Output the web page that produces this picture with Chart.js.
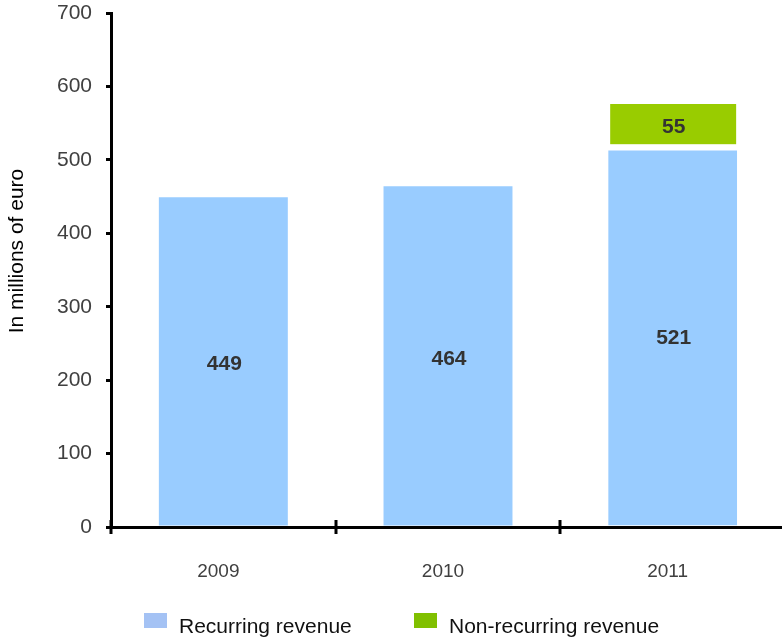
<!DOCTYPE html>
<html>
<head>
<meta charset="utf-8">
<script src="https://cdn.jsdelivr.net/npm/chart.js@4/dist/chart.umd.min.js"></script>
<style>
  html, body { margin: 0; padding: 0; background: #fff; overflow: hidden; }
  canvas { display: block; }
</style>
</head>
<body>
<canvas id="c" width="790" height="641"></canvas>
<script>
// Revenue split per year, in millions of euro
const years = ['2009', '2010', '2011'];
const recurring = [449, 464, 521];
const nonRecurring = [0, 0, 55];
const yTicks = [0, 100, 200, 300, 400, 500, 600, 700];
const seriesNames = ['Recurring revenue', 'Non-recurring revenue'];
const axisTitle = 'In millions of euro';

const FONT = '"Liberation Sans", Arial, Helvetica, sans-serif';
const legendColors = ['#a4c2f4', '#80c000'];

// Value labels centred in each visible segment
const valueLabels = {
  id: 'valueLabels',
  afterDatasetsDraw(chart) {
    const ctx = chart.ctx;
    ctx.save();
    ctx.font = 'bold 21px ' + FONT;
    ctx.fillStyle = '#333333';
    ctx.textAlign = 'center';
    ctx.textBaseline = 'middle';
    chart.data.datasets.forEach((ds, di) => {
      chart.getDatasetMeta(di).data.forEach((bar, i) => {
        const v = ds.data[i];
        if (!v) return;
        const p = bar.getCenterPoint();
        ctx.fillText(String(v), p.x + 1, p.y + 3);
      });
    });
    ctx.restore();
  }
};

// Category separator marks crossing the x axis, rotated axis title and legend
const decorations = {
  id: 'decorations',
  afterDraw(chart) {
    const ctx = chart.ctx;
    const area = chart.chartArea;
    const x = chart.scales.x;
    ctx.save();
    ctx.strokeStyle = '#000';
    ctx.lineWidth = 3;
    const step = x.getPixelForValue(1) - x.getPixelForValue(0);
    for (let i = 0; i < years.length; i++) {
      const px = Math.round(x.getPixelForValue(i) - step / 2);
      ctx.beginPath();
      ctx.moveTo(px, area.bottom - 7);
      ctx.lineTo(px, area.bottom + 7);
      ctx.stroke();
    }

    // y axis title
    ctx.translate(17, 251);
    ctx.rotate(-Math.PI / 2);
    ctx.font = '21px ' + FONT;
    ctx.fillStyle = '#000';
    ctx.textAlign = 'center';
    ctx.textBaseline = 'middle';
    ctx.fillText(axisTitle, 0, 0);
    ctx.restore();

    // legend
    ctx.save();
    const items = [{ bx: 144, tx: 179 }, { bx: 414, tx: 449 }];
    ctx.font = '21px ' + FONT;
    ctx.textAlign = 'left';
    ctx.textBaseline = 'alphabetic';
    chart.data.datasets.forEach((ds, i) => {
      ctx.fillStyle = legendColors[i];
      ctx.fillRect(items[i].bx, 613, 23, 15);
      ctx.fillStyle = '#111';
      ctx.fillText(ds.label, items[i].tx, 633);
    });
    ctx.restore();
  }
};

new Chart(document.getElementById('c'), {
  type: 'bar',
  data: {
    labels: years,
    datasets: [
      {
        label: seriesNames[0],
        data: recurring,
        backgroundColor: '#99ccff',
        borderColor: '#ffffff',
        borderWidth: (c) => (nonRecurring[c.dataIndex] > 0 ? { top: 6, left: 0, right: 0, bottom: 0 } : 0),
        categoryPercentage: 1,
        barPercentage: 0.574
      },
      {
        label: seriesNames[1],
        data: nonRecurring,
        backgroundColor: '#99cc00',
        borderColor: '#ffffff',
        borderWidth: { top: 0, left: 2, right: 1, bottom: 0 },
        categoryPercentage: 1,
        barPercentage: 0.574
      }
    ]
  },
  options: {
    responsive: false,
    animation: false,
    layout: { padding: { left: 21, right: 5, top: 13, bottom: 0 } },
    plugins: {
      legend: { display: false },
      tooltip: { enabled: false }
    },
    scales: {
      x: {
        stacked: true,
        grid: { display: false, drawTicks: false },
        border: { display: true, color: '#000', width: 3 },
        ticks: {
          font: { family: FONT, size: 19 },
          color: '#404040',
          padding: 33,
          labelOffset: -5
        },
        afterFit(s) { s.height = 114; }
      },
      y: {
        stacked: true,
        min: 0,
        max: 700,
        afterBuildTicks(s) { s.ticks = yTicks.map(v => ({ value: v })); },
        grid: {
          display: true,
          drawOnChartArea: false,
          drawTicks: true,
          tickLength: 5,
          color: '#000',
          lineWidth: 3
        },
        border: { display: true, color: '#000', width: 3 },
        ticks: {
          font: { family: FONT, size: 21 },
          color: '#404040',
          padding: 14
        },
        afterFit(s) { s.width = 90; s.paddingTop = 0; s.paddingBottom = 0; }
      }
    }
  },
  plugins: [valueLabels, decorations]
});
</script>
</body>
</html>
